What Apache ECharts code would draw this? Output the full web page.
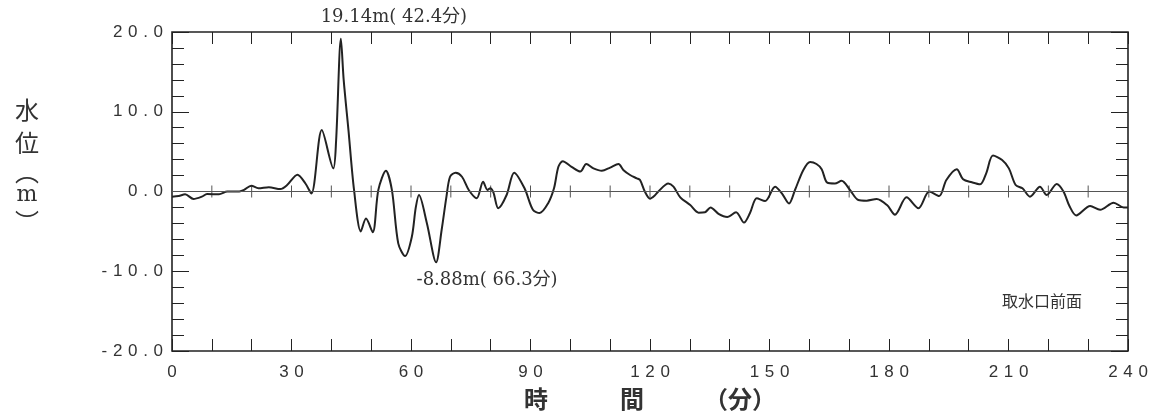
<!DOCTYPE html>
<html>
<head>
<meta charset="utf-8">
<script src="https://cdn.jsdelivr.net/npm/echarts@6/dist/echarts.min.js"></script>
<style>
  html, body { margin: 0; padding: 0; background: #ffffff; }
  #chart { width: 1152px; height: 414px; }
</style>
</head>
<body>
<div id="chart"></div>
<script>
// Water level time history in front of the intake (minutes, metres)
const timeMin = [
  0, 1.7, 3.3, 5.4, 7.5, 8.8, 11.8, 13.9, 16.9, 18.1,
  19.9, 21.7, 24.3, 27.2, 28.9, 31.5, 33.5, 35.0, 37.6, 40.5,
  41.2, 42.4, 43.1, 44.3, 45.7, 47.4, 48.7, 50.4, 51.8, 53.7,
  55.2, 56.8, 58.5, 60.2, 61.2, 62.0, 64.0, 66.3, 67.7, 68.9,
  69.8, 71.2, 72.8, 74.5, 76.5, 78.1, 79.2, 79.9, 80.7, 81.9,
  84.0, 85.9, 88.5, 90.6, 92.3, 94.4, 95.9, 97.0, 98.1, 100.3,
  102.5, 104.0, 105.8, 107.9, 110.0, 112.1, 113.3, 115.0, 116.7, 117.5,
  118.7, 120.0, 121.2, 122.1, 124.6, 125.9, 127.6, 130.1, 132.2, 133.8,
  135.2, 137.2, 139.4, 141.6, 143.6, 145.1, 146.8, 148.9, 151.4, 153.1,
  154.9, 156.4, 158.5, 160.2, 161.8, 163.1, 164.5, 166.4, 168.1, 170.2,
  172.3, 174.4, 176.9, 179.5, 181.5, 184.4, 187.4, 190.1, 192.6, 194.4,
  197.0, 198.6, 200.8, 202.9, 204.4, 206.1, 208.4, 210.1, 211.8, 213.5,
  215.4, 217.9, 219.6, 222.1, 223.8, 225.3, 227.0, 230.5, 233.0, 236.4,
  238.9, 240
];
const waterLevel = [
  -0.65, -0.56, -0.35, -0.94, -0.65, -0.31, -0.35, 0.0, 0.0, 0.2,
  0.73, 0.4, 0.53, 0.31, 0.81, 2.1, 1.0, -0.25, 7.7, 2.9,
  6.4, 19.14, 14.0, 7.7, 0.2, -5.0, -3.4, -5.1, 0.2, 2.6,
  0.2, -6.5, -8.1, -5.7, -2.0, -0.45, -4.0, -8.88, -4.8, -0.65,
  1.85, 2.36, 1.85, 0.19, -0.85, 1.23, 0.2, 0.4, -0.15, -2.1,
  -0.44, 2.36, 0.4, -2.3, -2.7, -1.5, 0.4, 3.1, 3.8, 3.1,
  2.5, 3.45, 2.9, 2.6, 3.0, 3.45, 2.7, 2.07, 1.65, 1.44,
  0.0, -0.9, -0.5, 0.0, 1.0, 0.6, -0.73, -1.7, -2.65, -2.6,
  -2.0, -2.8, -3.2, -2.6, -3.9, -2.7, -0.85, -1.2, 0.6, -0.23,
  -1.5, 0.19, 2.7, 3.7, 3.45, 2.8, 1.1, 1.0, 1.35, 0.19,
  -1.07, -1.15, -0.94, -1.7, -2.9, -0.73, -2.1, 0.0, -0.56, 1.44,
  2.8, 1.53, 1.15, 0.9, 2.28, 4.5, 3.95, 2.9, 0.81, 0.4,
  -0.65, 0.6, -0.44, 0.94, 0.0, -1.82, -3.0, -1.82, -2.3, -1.4,
  -2.0, -2.0
];

const xTickLabels = ['0', '30', '60', '90', '120', '150', '180', '210', '240'];
const yTickLabels = ['-20.0', '-10.0', '0.0', '10.0', '20.0'];
const zeroLineTicks = [10, 20, 30, 40, 50, 60, 70, 80, 90, 100, 110, 120,
  130, 140, 150, 160, 170, 180, 190, 200, 210, 220, 230];
const xAxisTitle = '時　　　間　　　（分）';
const yAxisTitleChars = ['水', '位', '︵', 'm', '︶'];
const stationName = '取水口前面';

const seriesData = timeMin.map((t, i) => [t, waterLevel[i]]);

// Extremes of the record, labelled on the curve
let iMax = 0, iMin = 0;
waterLevel.forEach((v, i) => {
  if (v > waterLevel[iMax]) iMax = i;
  if (v < waterLevel[iMin]) iMin = i;
});
const extremeLabel = i => waterLevel[i].toFixed(2) + 'm( ' + timeMin[i].toFixed(1) + '分)';

// Wide spacing between the characters of tick labels
const spaced = s => s.split('').join('\u2004');

const ink = '#222222';
const frame = '#222222';
const tickFont = '"Liberation Sans", "DejaVu Sans", sans-serif';

const xAxisBase = {
  type: 'value', min: 0, max: 240, interval: 30,
  axisLine: { show: false, onZero: false },
  splitLine: { show: false },
  axisTick: { show: true, inside: true, length: 12, lineStyle: { color: frame, width: 1 } },
  minorTick: { show: true, splitNumber: 3, length: 12, lineStyle: { color: frame, width: 1 } }
};
const yAxisBase = {
  type: 'value', min: -20, max: 20, interval: 10,
  axisLine: { show: false, onZero: false },
  splitLine: { show: false },
  axisTick: { show: true, inside: true, length: 17, lineStyle: { color: frame, width: 1 } },
  minorTick: { show: true, splitNumber: 5, length: 12, lineStyle: { color: frame, width: 1 } }
};

const chart = echarts.init(document.getElementById('chart'), null, { renderer: 'canvas' });

chart.setOption({
  animation: false,
  backgroundColor: '#ffffff',
  grid: {
    left: 172, right: 24, top: 32, bottom: 63,
    show: true, borderColor: frame, borderWidth: 1.6, backgroundColor: 'transparent'
  },
  xAxis: [
    Object.assign({}, xAxisBase, {
      position: 'bottom',
      axisLabel: {
        show: true, margin: 13, color: '#333', fontSize: 17, fontFamily: tickFont,
        formatter: v => spaced(xTickLabels.find(s => Number(s) === v) || String(v))
      }
    }),
    Object.assign({}, xAxisBase, { position: 'top', axisLabel: { show: false } })
  ],
  yAxis: [
    Object.assign({}, yAxisBase, {
      position: 'left',
      axisLabel: {
        show: true, margin: 9, color: '#333', fontSize: 17, fontFamily: tickFont,
        formatter: v => spaced(yTickLabels.find(s => Number(s) === v) || String(v))
      }
    }),
    Object.assign({}, yAxisBase, { position: 'right', axisLabel: { show: false } })
  ],
  series: [
    {
      type: 'line',
      data: seriesData,
      xAxisIndex: 0, yAxisIndex: 0,
      smooth: 0.3,
      showSymbol: false,
      lineStyle: { color: ink, width: 2 },
      z: 3,
      markLine: {
        silent: true, symbol: 'none',
        label: { show: false },
        lineStyle: { color: '#555', width: 1, type: 'solid' },
        data: [{ yAxis: 0 }]
      },
      markPoint: {
        silent: true, symbol: 'circle', symbolSize: 0,
        itemStyle: { color: 'transparent' },
        label: {
          show: true, position: 'inside', color: '#333',
          fontSize: 18, fontFamily: '"DejaVu Serif", "Noto Sans CJK JP", serif'
        },
        data: [
          { coord: [timeMin[iMax], waterLevel[iMax]], label: { formatter: extremeLabel(iMax), offset: [53, -22] } },
          { coord: [timeMin[iMin], waterLevel[iMin]], label: { formatter: extremeLabel(iMin), offset: [51, 18] } }
        ]
      }
    },
    {
      // short ticks crossing the zero line
      type: 'custom',
      xAxisIndex: 0, yAxisIndex: 0,
      silent: true, z: 2,
      data: zeroLineTicks.map(t => [t, 0]),
      renderItem: (params, api) => {
        const p = api.coord([api.value(0), api.value(1)]);
        return {
          type: 'line',
          shape: { x1: p[0], y1: p[1] - 6, x2: p[0], y2: p[1] + 6 },
          style: { stroke: '#555', lineWidth: 1 }
        };
      }
    }
  ],
  graphic: [
    {
      type: 'text', x: 650, y: 399,
      style: {
        text: xAxisTitle, fill: '#333', align: 'center', verticalAlign: 'middle',
        font: 'bold 24px "Noto Sans CJK JP", sans-serif'
      }
    },
    {
      type: 'text', right: 70, top: 293,
      style: {
        text: stationName, fill: '#333',
        font: '16px "Noto Sans CJK JP", sans-serif'
      }
    }
  ].concat(yAxisTitleChars.map((c, i) => ({
    type: 'text',
    x: 27, y: [110, 143, 172, 195, 222][i],
    style: {
      text: c, fill: '#333', align: 'center', verticalAlign: 'middle',
      font: (c === 'm' ? '22px "DejaVu Serif", serif' : '24px "Noto Sans CJK JP", sans-serif')
    }
  })))
});
</script>
</body>
</html>
